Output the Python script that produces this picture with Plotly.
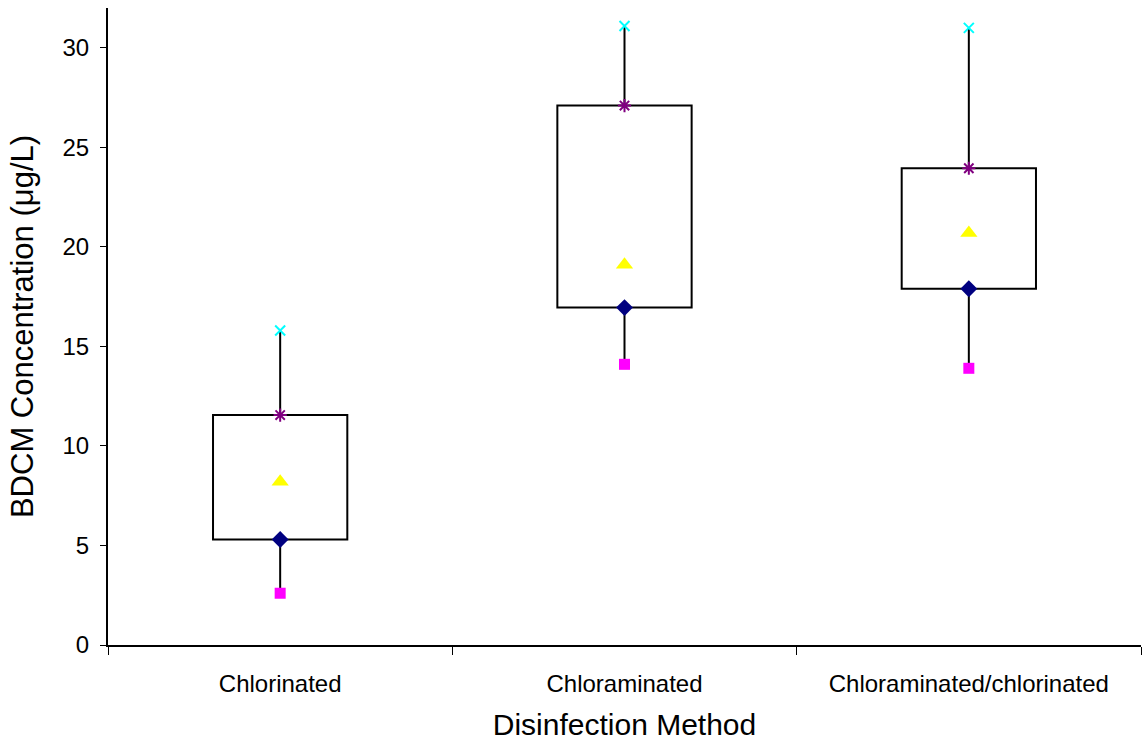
import plotly.graph_objects as go

categories = ["Chlorinated", "Chloraminated", "Chloraminated/chlorinated"]
minimum = [2.6, 14.1, 13.9]
q1 = [5.3, 16.95, 17.9]
mean = [8.2, 19.1, 20.7]
q3 = [11.55, 27.1, 23.95]
maximum = [15.8, 31.1, 31.0]
y_ticks = [0, 5, 10, 15, 20, 25, 30]

FONT = "Liberation Sans, Arial, sans-serif"

fig = go.Figure()

# boxes (Q1 to Q3)
fig.add_trace(go.Bar(
    x=categories,
    y=[b - a for a, b in zip(q1, q3)],
    base=q1,
    width=0.39,
    marker=dict(color="white", line=dict(color="black", width=2)),
    showlegend=False,
    hoverinfo="skip",
))

# whiskers
wx, wy = [], []
for c, lo, a, b, hi in zip(categories, minimum, q1, q3, maximum):
    wx += [c, c, None, c, c, None]
    wy += [lo, a, None, b, hi, None]
fig.add_trace(go.Scatter(x=wx, y=wy, mode="lines",
                         line=dict(color="black", width=2),
                         showlegend=False, hoverinfo="skip"))

fig.add_trace(go.Scatter(x=categories, y=minimum, mode="markers", name="Min",
                         marker=dict(symbol="square", size=11, color="#FF00FF"),
                         showlegend=False))
fig.add_trace(go.Scatter(x=categories, y=q1, mode="markers", name="Q1",
                         marker=dict(symbol="diamond", size=13, color="#000080"),
                         showlegend=False))
fig.add_trace(go.Scatter(x=categories, y=mean, mode="markers", name="Mean",
                         marker=dict(symbol="triangle-up", size=15, color="#FFFF00"),
                         showlegend=False))
fig.add_trace(go.Scatter(x=categories, y=q3, mode="markers", name="Q3",
                         marker=dict(symbol="asterisk-open", size=11, color="#800080",
                                     line=dict(color="#800080", width=2)),
                         showlegend=False))
fig.add_trace(go.Scatter(x=categories, y=maximum, mode="markers", name="Max",
                         marker=dict(symbol="x-thin-open", size=10, color="#00FFFF",
                                     line=dict(color="#00FFFF", width=2)),
                         showlegend=False))

fig.update_layout(
    width=1143, height=742,
    margin=dict(l=108, r=2, t=8, b=97),
    paper_bgcolor="white", plot_bgcolor="white",
    font=dict(family=FONT, color="black"),
    barmode="overlay",
    xaxis=dict(
        type="category",
        categoryorder="array", categoryarray=categories,
        range=[-0.5, 2.5],
        tickson="boundaries",
        ticks="outside", ticklen=8, tickwidth=1, tickcolor="black",
        showline=True, linecolor="black", linewidth=2,
        showgrid=False, zeroline=False,
        tickfont=dict(size=24),
        ticklabelstandoff=16,
        automargin=False,
        title=dict(text="Disinfection Method", font=dict(size=30), standoff=18),
    ),
    yaxis=dict(
        range=[0, 32],
        tickvals=y_ticks,
        ticks="outside", ticklen=6, tickwidth=1, tickcolor="black",
        showline=True, linecolor="black", linewidth=2,
        showgrid=False, zeroline=False,
        tickfont=dict(size=24),
        ticklabelstandoff=6,
        automargin=False,
        title=dict(text="BDCM Concentration (μg/L)", font=dict(size=31), standoff=20),
    ),
)

fig.write_html("out.html", config={"displayModeBar": False},
               post_script="document.body.style.margin='0';")
